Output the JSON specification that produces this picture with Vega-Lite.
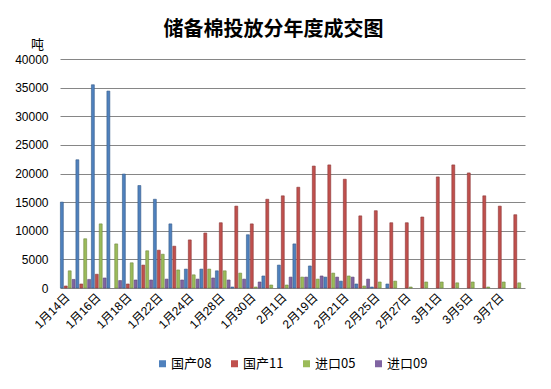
{
  "$schema": "https://vega.github.io/schema/vega-lite/v6.json",
  "width": 465,
  "height": 229,
  "autosize": {"type": "none"},
  "padding": {"left": 60, "top": 59, "right": 26, "bottom": 101},
  "background": "white",
  "config": {
    "font": "Liberation Sans, Noto Sans CJK SC",
    "view": {"stroke": null}
  },
  "title": {
    "text": "储备棉投放分年度成交图",
    "font": "Noto Sans CJK SC",
    "fontSize": 20,
    "fontWeight": "bold",
    "color": "#000000",
    "anchor": "middle",
    "dx": -19,
    "offset": -2
  },
  "data": {
    "values": [
      {"date": "1月14日", "series": "国产08", "value": 15000},
      {"date": "1月14日", "series": "国产11", "value": 350},
      {"date": "1月14日", "series": "进口05", "value": 3000},
      {"date": "1月14日", "series": "进口09", "value": 1500},
      {"date": "1月15日", "series": "国产08", "value": 22400},
      {"date": "1月15日", "series": "国产11", "value": 700},
      {"date": "1月15日", "series": "进口05", "value": 8600},
      {"date": "1月15日", "series": "进口09", "value": 1500},
      {"date": "1月16日", "series": "国产08", "value": 35500},
      {"date": "1月16日", "series": "国产11", "value": 2400},
      {"date": "1月16日", "series": "进口05", "value": 11200},
      {"date": "1月16日", "series": "进口09", "value": 1750},
      {"date": "1月17日", "series": "国产08", "value": 34400},
      {"date": "1月17日", "series": "进口05", "value": 7700},
      {"date": "1月17日", "series": "进口09", "value": 1300},
      {"date": "1月18日", "series": "国产08", "value": 19900},
      {"date": "1月18日", "series": "国产11", "value": 700},
      {"date": "1月18日", "series": "进口05", "value": 4400},
      {"date": "1月18日", "series": "进口09", "value": 1400},
      {"date": "1月21日", "series": "国产08", "value": 17900},
      {"date": "1月21日", "series": "国产11", "value": 4000},
      {"date": "1月21日", "series": "进口05", "value": 6500},
      {"date": "1月21日", "series": "进口09", "value": 1400},
      {"date": "1月22日", "series": "国产08", "value": 15500},
      {"date": "1月22日", "series": "国产11", "value": 6600},
      {"date": "1月22日", "series": "进口05", "value": 5900},
      {"date": "1月22日", "series": "进口09", "value": 1550},
      {"date": "1月23日", "series": "国产08", "value": 11200},
      {"date": "1月23日", "series": "国产11", "value": 7300},
      {"date": "1月23日", "series": "进口05", "value": 3150},
      {"date": "1月23日", "series": "进口09", "value": 1400},
      {"date": "1月24日", "series": "国产08", "value": 3300},
      {"date": "1月24日", "series": "国产11", "value": 8400},
      {"date": "1月24日", "series": "进口05", "value": 2300},
      {"date": "1月24日", "series": "进口09", "value": 1550},
      {"date": "1月25日", "series": "国产08", "value": 3300},
      {"date": "1月25日", "series": "国产11", "value": 9600},
      {"date": "1月25日", "series": "进口05", "value": 3300},
      {"date": "1月25日", "series": "进口09", "value": 1750},
      {"date": "1月28日", "series": "国产08", "value": 3000},
      {"date": "1月28日", "series": "国产11", "value": 11400},
      {"date": "1月28日", "series": "进口05", "value": 3000},
      {"date": "1月28日", "series": "进口09", "value": 1400},
      {"date": "1月29日", "series": "国产08", "value": 170},
      {"date": "1月29日", "series": "国产11", "value": 14300},
      {"date": "1月29日", "series": "进口05", "value": 2600},
      {"date": "1月29日", "series": "进口09", "value": 1550},
      {"date": "1月30日", "series": "国产08", "value": 9300},
      {"date": "1月30日", "series": "国产11", "value": 11200},
      {"date": "1月30日", "series": "进口05", "value": 170},
      {"date": "1月30日", "series": "进口09", "value": 1050},
      {"date": "1月31日", "series": "国产08", "value": 2100},
      {"date": "1月31日", "series": "国产11", "value": 15500},
      {"date": "1月31日", "series": "进口05", "value": 520},
      {"date": "2月1日", "series": "国产08", "value": 4000},
      {"date": "2月1日", "series": "国产11", "value": 16100},
      {"date": "2月1日", "series": "进口05", "value": 520},
      {"date": "2月1日", "series": "进口09", "value": 1900},
      {"date": "2月18日", "series": "国产08", "value": 7700},
      {"date": "2月18日", "series": "国产11", "value": 17600},
      {"date": "2月18日", "series": "进口05", "value": 1900},
      {"date": "2月18日", "series": "进口09", "value": 1900},
      {"date": "2月19日", "series": "国产08", "value": 3850},
      {"date": "2月19日", "series": "国产11", "value": 21300},
      {"date": "2月19日", "series": "进口05", "value": 1550},
      {"date": "2月19日", "series": "进口09", "value": 2100},
      {"date": "2月20日", "series": "国产08", "value": 1900},
      {"date": "2月20日", "series": "国产11", "value": 21500},
      {"date": "2月20日", "series": "进口05", "value": 2600},
      {"date": "2月20日", "series": "进口09", "value": 1900},
      {"date": "2月21日", "series": "国产08", "value": 1200},
      {"date": "2月21日", "series": "国产11", "value": 19000},
      {"date": "2月21日", "series": "进口05", "value": 2100},
      {"date": "2月21日", "series": "进口09", "value": 1900},
      {"date": "2月22日", "series": "国产08", "value": 700},
      {"date": "2月22日", "series": "国产11", "value": 12600},
      {"date": "2月22日", "series": "进口05", "value": 350},
      {"date": "2月22日", "series": "进口09", "value": 1550},
      {"date": "2月25日", "series": "国产08", "value": 170},
      {"date": "2月25日", "series": "国产11", "value": 13500},
      {"date": "2月25日", "series": "进口05", "value": 1050},
      {"date": "2月26日", "series": "国产08", "value": 700},
      {"date": "2月26日", "series": "国产11", "value": 11400},
      {"date": "2月26日", "series": "进口05", "value": 1200},
      {"date": "2月27日", "series": "国产11", "value": 11400},
      {"date": "2月27日", "series": "进口05", "value": 170},
      {"date": "2月28日", "series": "国产11", "value": 12400},
      {"date": "2月28日", "series": "进口05", "value": 1050},
      {"date": "3月1日", "series": "国产11", "value": 19400},
      {"date": "3月1日", "series": "进口05", "value": 1050},
      {"date": "3月4日", "series": "国产11", "value": 21500},
      {"date": "3月4日", "series": "进口05", "value": 900},
      {"date": "3月5日", "series": "国产11", "value": 20100},
      {"date": "3月5日", "series": "进口05", "value": 1050},
      {"date": "3月6日", "series": "国产11", "value": 16100},
      {"date": "3月6日", "series": "进口05", "value": 170},
      {"date": "3月7日", "series": "国产11", "value": 14300},
      {"date": "3月7日", "series": "进口05", "value": 1050},
      {"date": "3月8日", "series": "国产11", "value": 12800},
      {"date": "3月8日", "series": "进口05", "value": 900}
    ]
  },
  "mark": {"type": "bar", "strokeWidth": 0.6},
  "encoding": {
    "x": {
      "field": "date",
      "type": "nominal",
      "sort": null,
      "scale": {"paddingInner": 0, "paddingOuter": 0},
      "axis": {
        "title": null,
        "values": ["1月14日", "1月16日", "1月18日", "1月22日", "1月24日", "1月28日", "1月30日", "2月1日", "2月19日", "2月21日", "2月25日", "2月27日", "3月1日", "3月5日", "3月7日"],
        "labelAngle": -45,
        "labelAlign": "right",
        "labelBaseline": "middle",
        "labelPadding": 7,
        "labelFontSize": 12,
        "labelColor": "#000000",
        "labelFont": "Liberation Sans, Noto Sans CJK SC",
        "ticks": false,
        "domain": false,
        "grid": false
      }
    },
    "xOffset": {
      "field": "series",
      "type": "nominal",
      "scale": {"domain": ["国产08", "国产11", "进口05", "进口09"], "paddingInner": 0.25, "paddingOuter": 0.1}
    },
    "y": {
      "field": "value",
      "type": "quantitative",
      "scale": {"domain": [0, 40000], "nice": false},
      "axis": {
        "title": "吨",
        "titleAngle": 0,
        "titleX": -23,
        "titleY": -15,
        "titleAlign": "center",
        "titleBaseline": "middle",
        "titleFontSize": 13,
        "titleFontWeight": "normal",
        "titleColor": "#000000",
        "titleFont": "Noto Sans CJK SC",
        "values": [0, 5000, 10000, 15000, 20000, 25000, 30000, 35000, 40000],
        "format": "d",
        "labelFontSize": 12,
        "labelColor": "#000000",
        "labelPadding": 12,
        "ticks": false,
        "domain": false,
        "grid": true,
        "gridColor": "#868686",
        "gridWidth": 1
      }
    },
    "fill": {
      "field": "series",
      "type": "nominal",
      "scale": {"domain": ["国产08", "国产11", "进口05", "进口09"], "range": ["#4F81BD", "#C0504D", "#9BBB59", "#8064A2"]},
      "legend": {
        "title": null,
        "orient": "none",
        "direction": "horizontal",
        "legendX": 96,
        "legendY": 298,
        "symbolType": "square",
        "symbolSize": 49,
        "symbolStrokeWidth": 0,
        "labelFontSize": 13,
        "labelOffset": 2,
        "columnPadding": 16,
        "labelColor": "#000000",
        "labelFont": "Noto Sans CJK SC"
      }
    },
    "stroke": {
      "field": "series",
      "type": "nominal",
      "scale": {"domain": ["国产08", "国产11", "进口05", "进口09"], "range": ["#385D8A", "#8C3836", "#71893F", "#5C4776"]},
      "legend": null
    }
  }
}
